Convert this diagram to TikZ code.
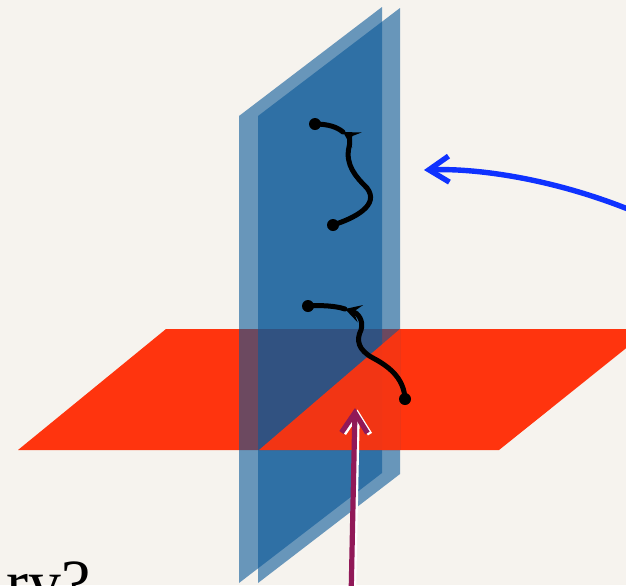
\documentclass[tikz,border=0pt]{standalone}
\usepackage{fontspec}
\setmainfont{Liberation Serif}
\usetikzlibrary{arrows.meta}

\definecolor{paper}{RGB}{246,243,238}
\definecolor{planeblue}{RGB}{10,88,152}
\definecolor{planered}{RGB}{255,52,14}
\definecolor{pinkarr}{RGB}{145,25,88}
\definecolor{bluearr}{RGB}{15,50,255}

\begin{document}
\begin{tikzpicture}[
  x=0.5pt,y=-0.5pt,
  blueplane/.style={fill=planeblue,fill opacity=0.6},
  redplane/.style={fill=planered},
  string/.style={line width=2.5pt,line cap=round},
  stringtip/.style={string,-{Stealth[length=8pt,width=9pt,inset=3.5pt]}},
  enddot/.style={fill=black},
  pointer/.style={line width=2.7pt,-{Straight Barb[length=10pt,width=13pt]}},
]

%% ---- Frame -----------------------------------------------------------------
\useasboundingbox (0,0) rectangle (626,585);
\clip (0,0) rectangle (626,585);
\fill[paper] (0,0) rectangle (626,585);

%% ---- Horizontal plane ------------------------------------------------------
\fill[redplane] (18,450) -- (166,329) -- (650,329) -- (499,450) -- cycle;

%% ---- Vertical planes -------------------------------------------------------
\fill[blueplane] (239,116) -- (382,7) -- (382,473) -- (239,583) -- cycle;
\fill[blueplane] (258,116) -- (400,8) -- (400,474) -- (258,583) -- cycle;

%% ---- Red plane in front of the blue ones
\fill[planered,fill opacity=0.94] (259,450) -- (400,329) -- (400,450) -- cycle;

%% ---- Strings ---------------------------------------------------------------
\coordinate (upA) at (333,225);
\coordinate (upTip) at (343,132);
\coordinate (upB) at (315,124);
\coordinate (lowA) at (405,399);
\coordinate (lowTip) at (345,309);
\coordinate (lowB) at (308,306);

\draw[stringtip] (upA) .. controls (355,218) and (380,205) .. (367,188)
  .. controls (356,177) and (345,165) .. (349,147)
  .. controls (351,140) and (348,135) .. (upTip);
\draw[string] (upTip) .. controls (337,127) and (328,124) .. (upB);

\draw[stringtip] (lowA) .. controls (404,380) and (392,368) .. (373,358)
  .. controls (358,350) and (356,340) .. (361,330)
  .. controls (364,321) and (358,313) .. (lowTip);
\draw[string] (lowTip) .. controls (336,306) and (322,305) .. (lowB);

\foreach \p in {upA,upB,lowA,lowB}
  \fill[enddot] (\p) circle (3pt);

%% ---- Arrows ----------------------------------------------------------------
\coordinate (pinkStart) at (351,600);
\coordinate (pinkEnd) at (355,408);
\coordinate (blueStart) at (640,214);
\coordinate (blueEnd) at (424,170);

\draw[pointer,white,line width=2.4pt] ([shift={(2.5,1.5)}]pinkStart) -- ([shift={(2.5,1.5)}]pinkEnd);
\draw[pointer,pinkarr,line width=2.6pt] (pinkStart) -- (pinkEnd);

\draw[pointer,bluearr] (blueStart) .. controls (560,180) and (480,168) .. (blueEnd);

%% ---- Text ------------------------------------------------------------------
\node[anchor=base east,inner sep=0pt,font=\fontsize{33}{33}\selectfont] (question) at (91,605) {ry?};

\end{tikzpicture}
\end{document}
